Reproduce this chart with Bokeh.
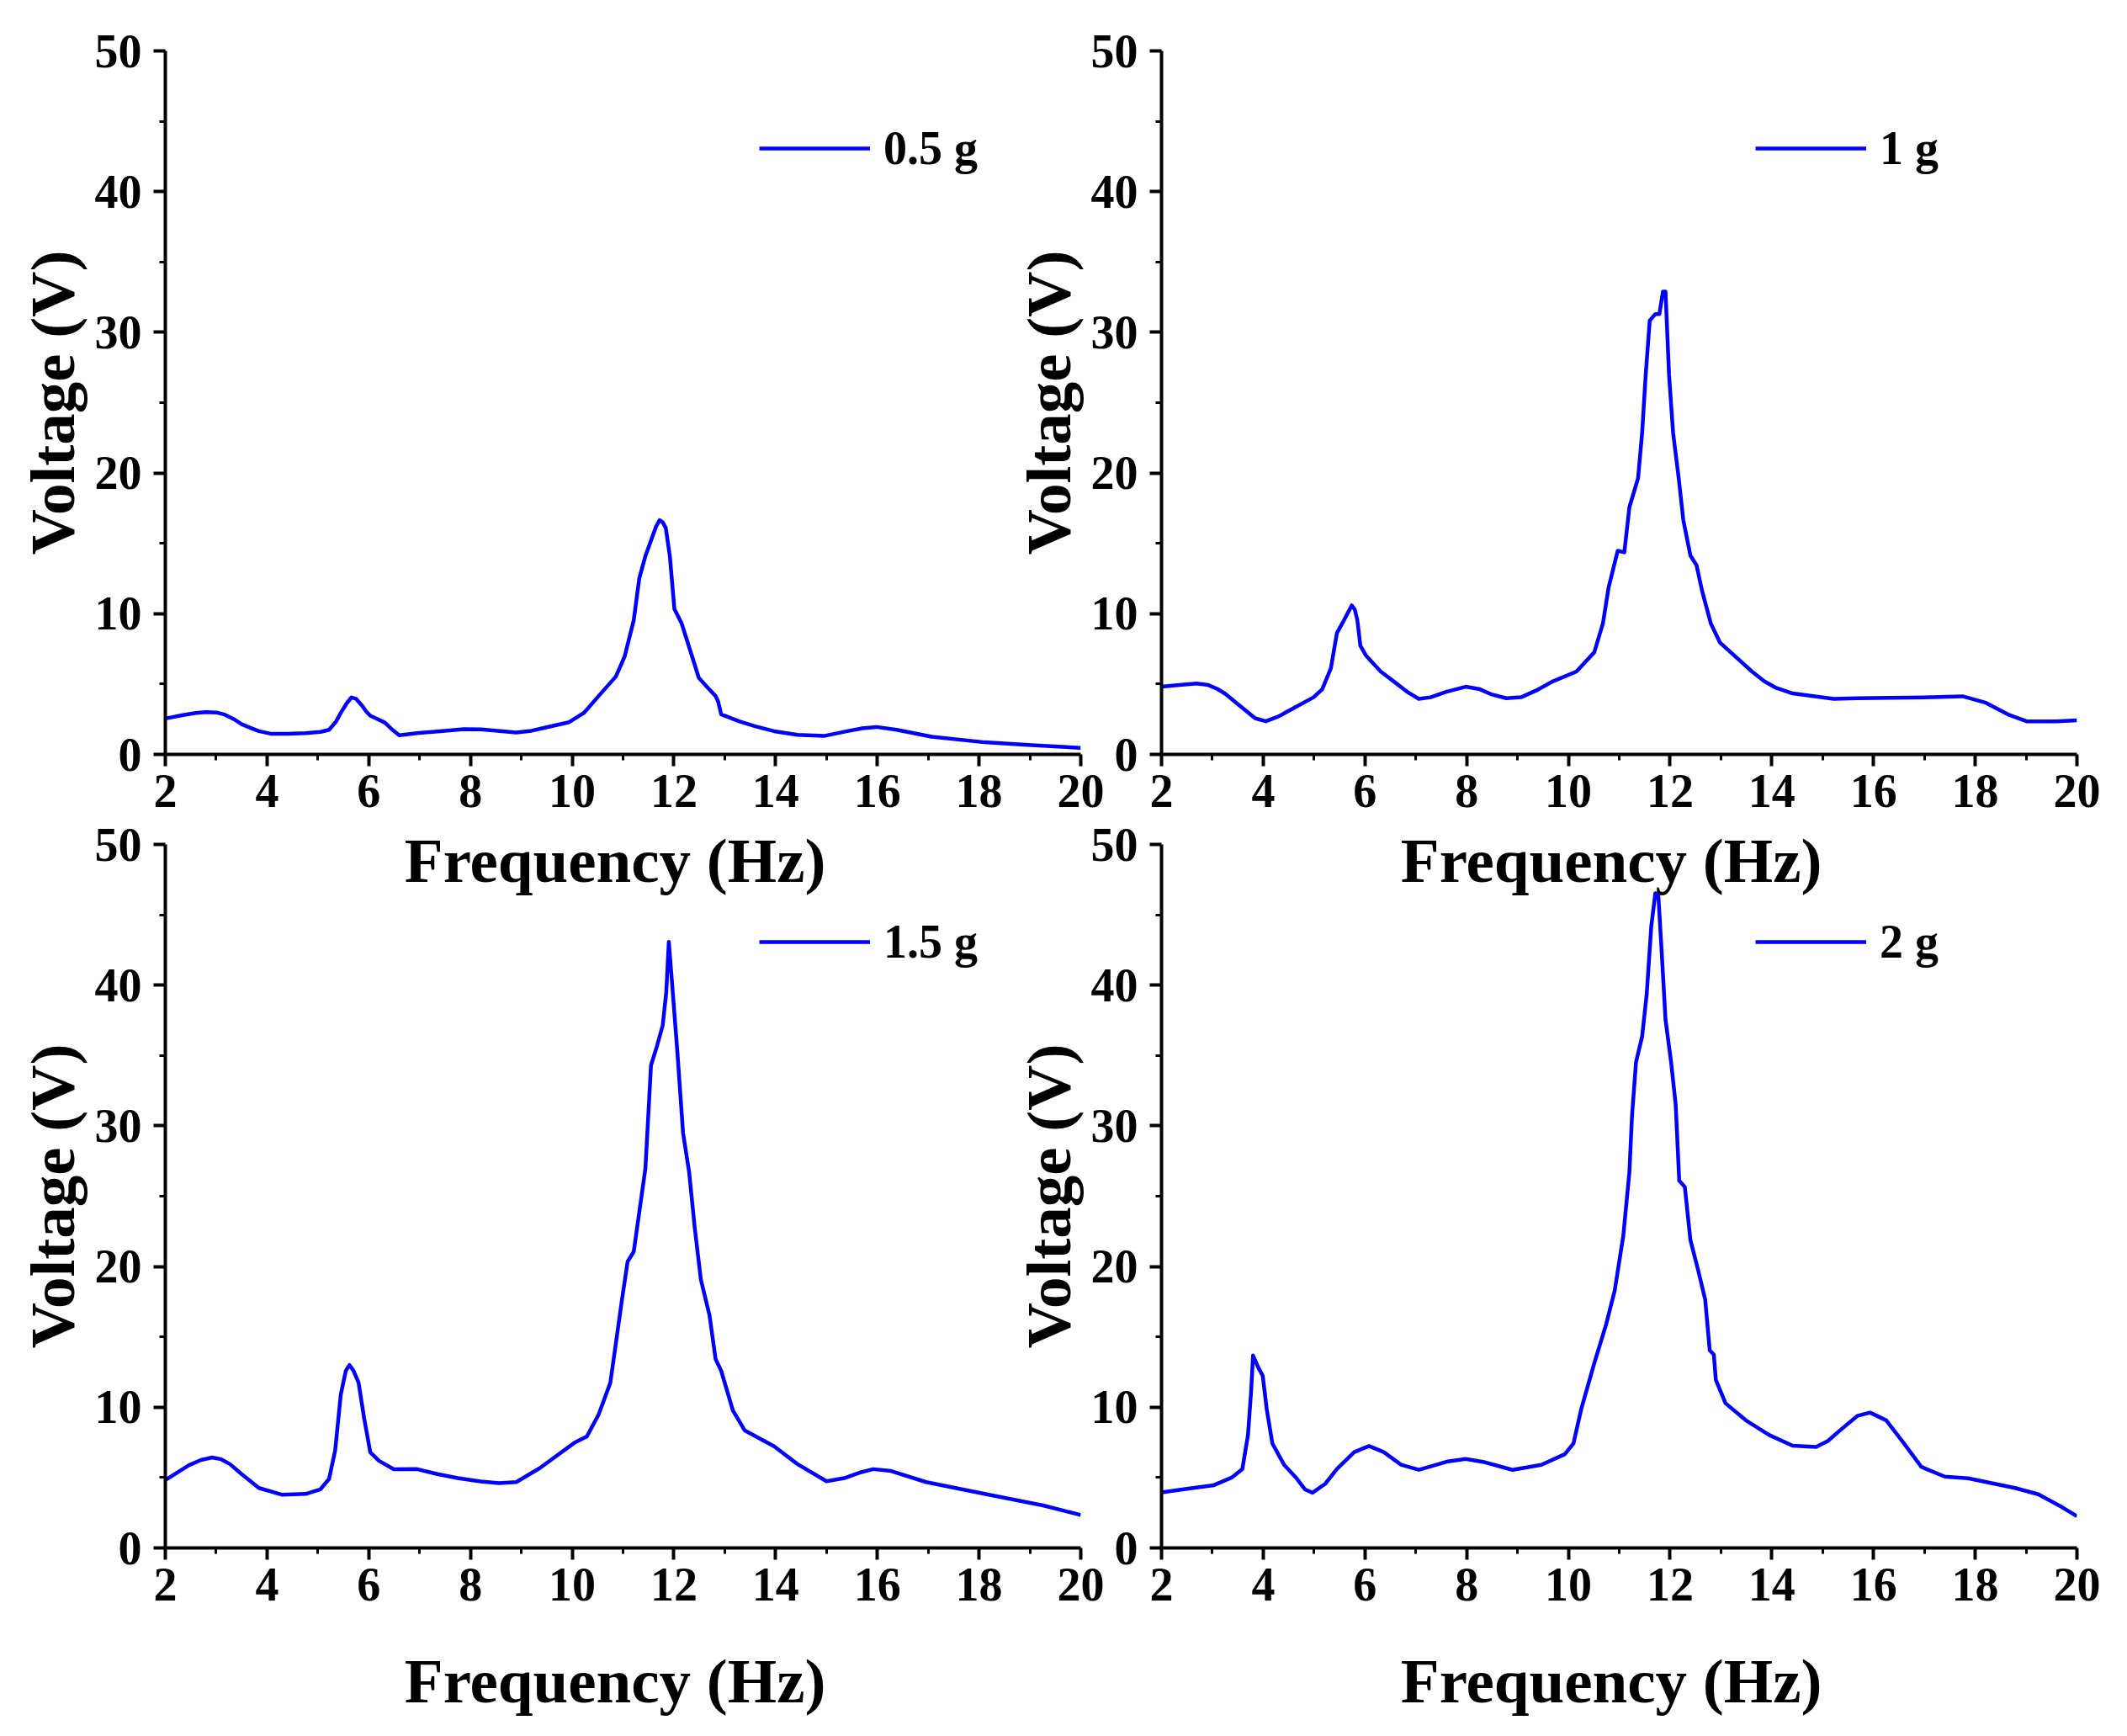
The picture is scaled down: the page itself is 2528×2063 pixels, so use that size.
from bokeh.plotting import figure
from bokeh.models import Range1d, FixedTicker
from bokeh.layouts import row, column
from bokeh.embed import file_html
from bokeh.resources import INLINE

# ---- data ----
f05 = [2.0, 2.35, 2.6, 2.8, 3.0, 3.15, 3.35, 3.5, 3.7, 3.84, 4.07, 4.4, 4.76, 5.05, 5.22, 5.35, 5.45, 5.57, 5.66,
       5.75, 5.85, 5.95, 6.03, 6.18, 6.32, 6.45, 6.6, 6.95, 7.4, 7.87, 8.2, 8.44, 8.9, 9.2, 9.48, 9.94, 10.23, 10.52,
       10.86, 11.03, 11.21, 11.32, 11.44, 11.57, 11.65, 11.72, 11.78, 11.84, 11.92, 12.01, 12.15, 12.36, 12.49,
       12.65, 12.82, 12.87, 12.93, 13.28, 13.6, 13.97, 14.43, 14.95, 15.41, 15.7, 15.98, 16.38, 17.07, 18.11,
       19.03, 20.0]
v05 = [2.55, 2.8, 2.95, 3.01, 2.98, 2.85, 2.5, 2.15, 1.85, 1.65, 1.47, 1.46, 1.51, 1.6, 1.75, 2.3, 2.95, 3.65, 4.05,
       3.95, 3.55, 3.05, 2.75, 2.5, 2.25, 1.8, 1.36, 1.51, 1.65, 1.79, 1.78, 1.71, 1.56, 1.68, 1.91, 2.29, 2.95, 4.15,
       5.54, 6.94, 9.53, 12.52, 14.1, 15.4, 16.2, 16.65, 16.5, 16.1, 14.1, 10.33, 9.33, 6.94, 5.44,
       4.8, 4.15, 3.75, 2.85, 2.35, 2.0, 1.65, 1.39, 1.31, 1.65, 1.85, 1.95, 1.75, 1.26, 0.86,
       0.66, 0.46]

f1 = [2.0, 2.4, 2.69, 2.92, 3.1, 3.26, 3.49, 3.84, 4.05, 4.3, 4.53, 4.99, 5.16, 5.33, 5.45, 5.59, 5.67, 5.74, 5.8,
      5.85, 5.91, 6.02, 6.31, 6.6, 6.85, 7.06, 7.29, 7.6, 7.98, 8.26, 8.5, 8.78, 9.07, 9.4, 9.7, 10.16, 10.51, 10.68,
      10.79, 10.97, 11.1, 11.2, 11.37, 11.45, 11.52, 11.6, 11.71, 11.79, 11.86, 11.91, 11.98, 12.06, 12.17, 12.26,
      12.4, 12.52, 12.63, 12.8, 12.98, 13.26, 13.61, 13.85, 14.07, 14.41, 15.22, 15.68, 17.17, 17.75, 18.21, 18.67,
      19.01, 19.59, 20.0]
v1 = [4.81, 4.95, 5.04, 4.93, 4.65, 4.29, 3.6, 2.57, 2.35, 2.7, 3.15, 4.06, 4.63, 6.12, 8.64, 9.55, 10.1, 10.59,
      10.3, 9.55, 7.72, 7.03, 5.89, 5.09, 4.4, 3.95, 4.06, 4.45, 4.81, 4.63, 4.25, 3.99, 4.06, 4.6, 5.2, 5.89, 7.26,
      9.32, 11.84, 14.47, 14.36, 17.57, 19.62, 22.83, 26.95, 30.84, 31.3, 31.3, 32.9, 32.9, 26.95, 22.83, 19.62,
      16.65, 14.13, 13.44, 11.61, 9.32, 7.95, 7.03, 5.89, 5.2, 4.75, 4.33, 3.95, 3.99, 4.06, 4.13, 3.67, 2.8,
      2.35, 2.35, 2.42]

f15 = [2.0, 2.46, 2.7, 2.92, 3.1, 3.27, 3.5, 3.84, 4.3, 4.76, 5.05, 5.22, 5.34, 5.45, 5.55, 5.62, 5.7, 5.8, 5.91,
       6.03, 6.2, 6.49, 6.95, 7.35, 7.75, 8.2, 8.56, 8.9, 9.36, 10.06, 10.29, 10.52, 10.75, 10.86, 10.98, 11.09,
       11.21, 11.32, 11.44, 11.55, 11.67, 11.78, 11.85, 11.9, 11.95, 12.07, 12.18, 12.3, 12.41, 12.53, 12.7, 12.82,
       12.93, 13.16, 13.39, 13.97, 14.43, 15.0, 15.35, 15.65, 15.92, 16.27, 16.96, 18.11, 19.26, 20.0]
v15 = [4.83, 5.87, 6.25, 6.43, 6.3, 5.96, 5.25, 4.26, 3.78, 3.84, 4.17, 4.9, 6.94, 10.9, 12.6, 13.0, 12.6, 11.74, 9.2,
       6.8, 6.2, 5.59, 5.6, 5.25, 4.96, 4.72, 4.6, 4.68, 5.67, 7.51, 7.93, 9.48, 11.74, 14.56, 17.67, 20.35,
       21.05, 23.88, 26.98, 34.3, 35.7, 37.14, 39.5, 43.07, 40.8, 35.17, 29.5, 26.7, 22.75, 19.08, 16.54, 13.43,
       12.59, 9.77, 8.36, 7.22, 5.96, 4.74, 4.96, 5.35, 5.6, 5.47, 4.68, 3.84, 3.02, 2.34]

f2 = [2.0, 2.5, 3.03, 3.38, 3.59, 3.7, 3.76, 3.8, 3.9, 3.99, 4.07, 4.18, 4.41, 4.64, 4.82, 4.97, 5.22, 5.45, 5.79,
      6.08, 6.37, 6.71, 7.06, 7.35, 7.63, 7.98, 8.32, 8.9, 9.47, 9.93, 10.1, 10.25, 10.51, 10.74, 10.91, 11.08, 11.2,
      11.25, 11.33, 11.45, 11.54, 11.63, 11.71, 11.77, 11.83, 11.91, 12.02, 12.11, 12.18, 12.29, 12.4, 12.55,
      12.69, 12.78, 12.86, 12.9, 13.09, 13.49, 13.95, 14.41, 14.87, 15.1, 15.33, 15.68, 15.93, 16.25, 16.6, 16.94,
      17.4, 17.86, 18.78, 19.24, 19.7, 20.0]
v2 = [3.95, 4.2, 4.46, 5.0, 5.61, 8.02, 11.03, 13.68, 12.84, 12.24, 9.83, 7.42, 5.91, 5.01, 4.16, 3.92, 4.56, 5.61,
      6.81, 7.24, 6.81, 5.91, 5.55, 5.85, 6.15, 6.33, 6.12, 5.55, 5.91, 6.66, 7.42, 9.83, 13.14, 15.86, 18.27, 22.18,
      26.7, 30.62, 34.53, 36.34, 39.35, 44.17, 46.53, 46.3, 42.67, 37.55, 34.53, 31.52, 26.1, 25.65, 21.88, 19.77,
      17.66, 14.04, 13.74, 11.94, 10.28, 9.07, 8.02, 7.27, 7.18, 7.6, 8.32, 9.38, 9.62, 9.07, 7.42, 5.76,
      5.07, 4.95, 4.26, 3.81, 2.91, 2.25]

labels = ["0.5 g", "1 g", "1.5 g", "2 g"]
x_ticks = [2, 4, 6, 8, 10, 12, 14, 16, 18, 20]
x_minor = [3, 5, 7, 9, 11, 13, 15, 17, 19]
y_ticks = [0, 10, 20, 30, 40, 50]
y_minor = [5, 15, 25, 35, 45]
x_title = "Frequency  (Hz)"
y_title = "Voltage (V)"

FONT = "Liberation Serif"
BLUE = "#0000FF"


def make(fx, vy, lab, top):
    p = figure(frame_width=1088, frame_height=836,
               x_range=Range1d(2, 20), y_range=Range1d(0, 50),
               output_backend="svg", toolbar_location=None, title=None,
               min_border_left=196, min_border_right=40,
               min_border_top=60 if top else 40,
               min_border_bottom=185 if top else 210,
               background_fill_color=None, border_fill_color=None,
               outline_line_color=None)
    p.grid.visible = False
    p.line(fx, vy, line_color=BLUE, line_width=4.5, line_join="round", legend_label=lab)

    for ax in (p.xaxis[0], p.yaxis[0]):
        ax.axis_line_width = 4
        ax.axis_line_color = "black"
        ax.major_tick_line_width = 4
        ax.minor_tick_line_width = 3
        ax.major_tick_in = 0
        ax.major_tick_out = 14
        ax.minor_tick_in = 0
        ax.minor_tick_out = 7
        ax.major_label_text_font = FONT
        ax.major_label_text_font_size = "56px"
        ax.major_label_text_font_style = "bold"
        ax.major_label_text_color = "black"
        ax.axis_label_text_font = FONT
        ax.axis_label_text_font_size = "75px"
        ax.axis_label_text_font_style = "bold"
        ax.axis_label_text_color = "black"

    p.xaxis[0].ticker = FixedTicker(ticks=x_ticks, minor_ticks=x_minor)
    p.yaxis[0].ticker = FixedTicker(ticks=y_ticks, minor_ticks=y_minor)
    p.xaxis[0].axis_label = x_title
    p.yaxis[0].axis_label = y_title
    p.xaxis[0].major_label_standoff = 10
    p.xaxis[0].axis_label_standoff = 19 if top else 51
    p.yaxis[0].major_label_standoff = 14
    p.yaxis[0].axis_label_standoff = 6

    lg = p.legend[0]
    lg.location = (706, 688)
    lg.glyph_width = 132
    lg.glyph_height = 40
    lg.label_standoff = 16
    lg.padding = 0
    lg.margin = 0
    lg.spacing = 0
    lg.border_line_color = None
    lg.background_fill_alpha = 0
    lg.label_text_font = FONT
    lg.label_text_font_size = "56px"
    lg.label_text_font_style = "bold"
    lg.label_text_color = "black"
    return p


tl = make(f05, v05, labels[0], True)
tr = make(f1, v1, labels[1], True)
bl = make(f15, v15, labels[2], False)
br = make(f2, v2, labels[3], False)

tr.margin = (0, 0, 0, -140)
br.margin = (0, 0, 0, -140)

top_row = row(tl, tr, spacing=0)
bottom_row = row(bl, br, spacing=0, margin=(-118, 0, 0, 0))
layout = column(top_row, bottom_row, spacing=0)

html = file_html(layout, INLINE)
html = html.replace("<body>", '<body style="overflow:hidden">', 1)
open("out.html", "w").write(html)
